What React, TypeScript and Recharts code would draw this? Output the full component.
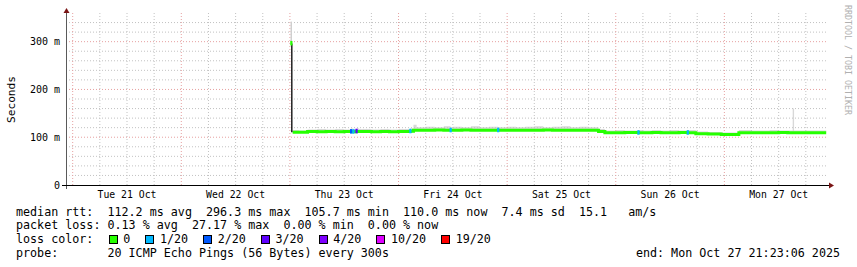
import React from "react";
import {
  ComposedChart, XAxis, YAxis, Line, Area, Scatter, ReferenceLine,
} from "recharts";

// time axis: hours since Tue 21 Oct 00:00
const DAY_LABELS = ["Tue 21 Oct", "Wed 22 Oct", "Thu 23 Oct", "Fri 24 Oct", "Sat 25 Oct", "Sun 26 Oct", "Mon 27 Oct"];
const DAY_CENTERS = [12, 36, 60, 84, 108, 132, 156];
const Y_TICKS = [0, 100, 200, 300];

// median rtt (ms) sampled along the week, step-after
const hours = [
  48.6, 50, 51.9, 54, 56, 58, 60, 61.5, 62, 62.7, 63.2, 66, 68, 70, 72, 74.6,
  75.3, 76, 78, 80, 82, 83.5, 84, 86, 88, 90, 92, 94, 96, 98, 100, 102, 104, 106, 108, 110, 112, 114,
  116.2, 117.6, 120, 122, 125, 126, 128, 130, 132, 134, 135.9,
  137.7, 140.4, 143.3, 147.2, 150, 152, 154, 156, 158, 159.1, 159.4, 162, 164, 166.5,
];
const median = [
  110.5, 110.6, 111.8, 111.6, 111.9, 111.7, 111.8, 111.8, 111.6, 112.0, 111.8, 111.6, 111.9, 111.7, 111.8, 112.5,
  114.8, 114.7, 114.6, 114.9, 114.7, 114.5, 114.7, 115.0, 114.6, 114.4, 114.8, 114.6, 114.5, 114.8, 114.4, 114.7, 114.9, 114.5, 114.7, 114.6, 114.8, 114.5,
  112.2, 109.6, 109.4, 109.7, 109.5, 109.5, 109.8, 109.4, 109.6, 109.7, 109.5,
  107.5, 106.5, 105.7, 109.6, 109.4, 109.6, 109.5, 109.7, 109.5, 109.5, 109.5, 109.4, 109.6, 109.6,
];
// top of the ping "smoke"
const smokeTop = [
  115, 114, 116, 117, 116, 117, 116, 118, 117, 119, 117, 116, 117, 116, 117, 118,
  126, 121, 122, 121, 123, 121, 122, 121, 123, 121, 122, 121, 122, 121, 122, 123, 121, 122, 123, 121, 122, 121,
  117, 114, 115, 114, 115, 114, 115, 114, 115, 114, 115,
  112, 111, 110, 115, 114, 114, 115, 114, 114, 160, 114, 114, 114, 109.6,
];

// samples with packet loss
const lossHours = [48.3, 61.5, 62, 62.7, 74.6, 83.5, 94, 125, 135.9];
const lossRtt = [296.3, 111.8, 111.6, 112.4, 112.5, 114.5, 114.6, 109.5, 109.5];
const lossLevel = ["0", "2/20", "1/20", "3/20", "1/20", "1/20", "1/20", "1/20", "1/20"];

const LOSS_NAMES = ["0", "1/20", "2/20", "3/20", "4/20", "10/20", "19/20"];
const LOSS_COLORS = ["#26ff00", "#00b8ff", "#0059ff", "#5e00ff", "#7e00ff", "#dd00ff", "#ff0000"];

const rows = hours.map((t, i) => ({ t, median: median[i], smoke: [median[i], smokeTop[i]] }));
const lossMarks = lossHours.map((t, i) => ({ t, v: lossRtt[i], c: LOSS_COLORS[LOSS_NAMES.indexOf(lossLevel[i])] }));
// first sample: smoke spread above it, then the drop to the steady level
const firstSmoke = [{ t: 48.3, v: 298 }, { t: 48.3, v: 342 }];
const dropLine = [{ t: 48.42, v: 296.3 }, { t: 48.42, v: 110.5 }];

const majorX = [0, 24, 48, 72, 96, 120, 144];
const minorX = Array.from({ length: 28 }, (_, i) => i * 6 + 6).filter((h) => h % 24 !== 0);
const majorY = [100, 200, 300];
const minorY = Array.from({ length: 17 }, (_, i) => i * 20 + 20).filter((v) => v % 100 !== 0);

const MONO = "'DejaVu Sans Mono', monospace";
const GRID = "#c2c2c2";
const MGRID = "#e6a0a0";
const ARROW = "#7a1515";

const legendLine: React.CSSProperties = {
  position: "absolute", left: 16, height: 14, lineHeight: "14px",
  fontFamily: MONO, fontSize: 11.7, whiteSpace: "pre", color: "#000",
};

export default function App() {
  return (
    <div style={{ position: "absolute", left: 0, top: 0, width: 857, height: 267, background: "#fff", overflow: "hidden" }}>
      <ComposedChart width={857} height={267} data={rows} margin={{ top: 13, right: 29, bottom: 0, left: 0 }}>
        <XAxis
          dataKey="t" type="number" domain={[-1.48, 166.9]} ticks={DAY_CENTERS} interval={0}
          height={82} axisLine={false} tickLine={false} allowDataOverflow
          tick={(p: any) => (
            <text x={p.x} y={198} textAnchor="middle" fontFamily={MONO} fontSize={9.8} fill="#000">
              {DAY_LABELS[DAY_CENTERS.indexOf(p.payload.value)]}
            </text>
          )}
        />
        <YAxis
          type="number" domain={[0, 360]} ticks={Y_TICKS} interval={0} width={66}
          axisLine={false} tickLine={false} allowDataOverflow
          tick={(p: any) => (
            <text x={60} y={p.y + 3.5} textAnchor="end" fontFamily={MONO} fontSize={10} fill="#000">
              {p.payload.value === 0 ? "0" : `${p.payload.value} m`}
            </text>
          )}
        />
        {minorX.map((h) => (
          <ReferenceLine key={`mx${h}`} x={h} stroke={GRID} strokeDasharray="1 2" />
        ))}
        {minorY.map((v) => (
          <ReferenceLine key={`my${v}`} y={v} stroke={GRID} strokeDasharray="1 2" />
        ))}
        {majorX.map((h) => (
          <ReferenceLine key={`Mx${h}`} x={h} stroke={MGRID} strokeDasharray="1 2" />
        ))}
        {majorY.map((v) => (
          <ReferenceLine key={`My${v}`} y={v} stroke={MGRID} strokeDasharray="1 2" />
        ))}
        <Area
          dataKey="smoke" type="stepAfter" fill="#d8d8d8" fillOpacity={1} stroke="none"
          isAnimationActive={false} dot={false} activeDot={false}
        />
        <Line
          data={firstSmoke} dataKey="v" type="linear" stroke="#cfcfcf" strokeWidth={1.5}
          dot={false} activeDot={false} isAnimationActive={false}
        />
        <Line
          dataKey="median" type="stepAfter" stroke="#26ff00" strokeWidth={3}
          dot={false} activeDot={false} isAnimationActive={false}
        />
        <Line
          data={dropLine} dataKey="v" type="linear" stroke="#000" strokeWidth={1.3}
          dot={false} activeDot={false} isAnimationActive={false}
        />
        <Scatter
          data={lossMarks} dataKey="v" isAnimationActive={false}
          shape={(p: any) => <rect x={p.cx - 1} y={p.cy - 2.5} width={2.2} height={4.5} fill={p.payload.c} />}
        />
      </ComposedChart>

      <svg width={857} height={267} style={{ position: "absolute", left: 0, top: 0, pointerEvents: "none" }}>
        <line x1={66.5} y1={189} x2={66.5} y2={12} stroke="#5a5a5a" strokeWidth={1} />
        <line x1={62} y1={185.5} x2={829} y2={185.5} stroke="#000" strokeWidth={1} />
        <polygon points="63.5,13 66.5,8 69.5,13" fill={ARROW} />
        <polygon points="829,182.5 834,185.5 829,188.5" fill={ARROW} />
        <text x={15} y={99.5} transform="rotate(-90 15 99.5)" textAnchor="middle" fontFamily={MONO} fontSize={11.2} fill="#000">
          Seconds
        </text>
        <text x={845} y={5} transform="rotate(90 845 5)" fontFamily={MONO} fontSize={8.3} fill="#b0b0b0">
          RRDTOOL / TOBI OETIKER
        </text>
      </svg>

      <div style={{ ...legendLine, top: 205 }}>
        {"median rtt:  112.2 ms avg  296.3 ms max  105.7 ms min  110.0 ms now  7.4 ms sd  15.1   am/s"}
      </div>
      <div style={{ ...legendLine, top: 218 }}>
        {"packet loss: 0.13 % avg  27.17 % max  0.00 % min  0.00 % now"}
      </div>
      <div style={{ ...legendLine, top: 232 }}>
        <span>{"loss color:"}</span>
        <span style={{ position: "absolute", left: 92.7, top: 0, display: "flex", alignItems: "center", height: 14 }}>
          {LOSS_NAMES.map((name, i) => (
            <span key={name} style={{ display: "flex", alignItems: "center", marginRight: 15 }}>
              <span style={{ width: 7, height: 7, border: "1px solid #000", background: LOSS_COLORS[i], marginRight: 5.6, marginTop: 1 }} />
              <span>{name}</span>
            </span>
          ))}
        </span>
      </div>
      <div style={{ ...legendLine, top: 246 }}>
        {"probe:       20 ICMP Echo Pings (56 Bytes) every 300s"}
      </div>
      <div style={{ ...legendLine, left: "auto", right: 17, top: 246 }}>
        {"end: Mon Oct 27 21:23:06 2025"}
      </div>
    </div>
  );
}
